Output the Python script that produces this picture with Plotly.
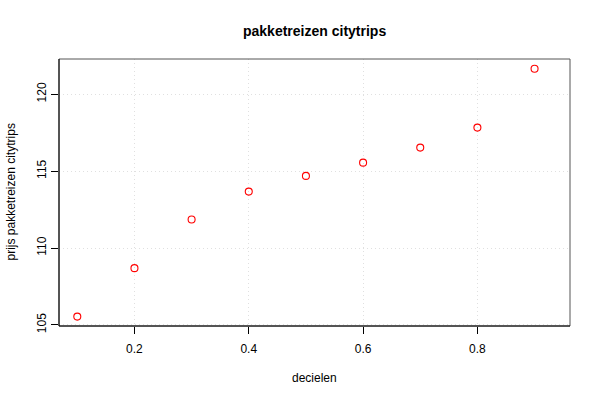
import plotly.graph_objects as go

deciles = [0.1, 0.2, 0.3, 0.4, 0.5, 0.6, 0.7, 0.8, 0.9]
prices = [105.54, 108.69, 111.85, 113.67, 114.69, 115.55, 116.53, 117.83, 121.66]
x_ticks = [0.2, 0.4, 0.6, 0.8]
y_ticks = [105, 110, 115, 120]

fig = go.Figure()
fig.add_trace(go.Scatter(
    x=deciles, y=prices, mode="markers",
    marker=dict(symbol="circle-open", size=7, color="red", line=dict(width=1.1, color="red")),
    showlegend=False,
))

font = "Liberation Sans, Arial, Helvetica, sans-serif"
fig.update_layout(
    width=600, height=400,
    margin=dict(l=59, r=30, t=59, b=74, autoexpand=False),
    paper_bgcolor="white", plot_bgcolor="white",
    font=dict(family=font, size=12, color="black"),
    xaxis=dict(
        range=[0.068, 0.962], tickvals=x_ticks, ticktext=[str(v) for v in x_ticks],
        showgrid=True, gridcolor="#e0e0e0", griddash="1px,3px", gridwidth=1,
        ticks="outside", ticklen=7, tickcolor="black", automargin=False,
        ticklabelstandoff=5,
        showline=False, zeroline=False,
    ),
    yaxis=dict(
        range=[104.93, 122.29], tickvals=y_ticks, ticktext=[str(v) for v in y_ticks],
        showgrid=True, gridcolor="#e0e0e0", griddash="1px,3px", gridwidth=1,
        ticks="outside", ticklen=7, tickcolor="black", tickangle=-90, automargin=False,
        showline=False, zeroline=False,
    ),
    shapes=[
        dict(type="rect", xref="paper", yref="paper", x0=0, y0=0, x1=1, y1=1,
             line=dict(color="#555555", width=1)),
        dict(type="line", xref="paper", yref="paper", x0=0, y0=0, x1=1, y1=0,
             line=dict(color="black", width=1)),
        dict(type="line", xref="paper", yref="paper", x0=0, y0=0, x1=0, y1=1,
             line=dict(color="black", width=1)),
    ],
    annotations=[
        dict(text="<b>pakketreizen citytrips</b>", xref="paper", yref="paper",
             x=0.5, y=1, yshift=28, yanchor="middle", xanchor="center",
             showarrow=False, font=dict(size=14)),
        dict(text="decielen", xref="paper", yref="paper",
             x=0.5, y=0, yshift=-52, yanchor="middle", xanchor="center",
             showarrow=False, font=dict(size=12)),
        dict(text="prijs pakketreizen citytrips", xref="paper", yref="paper",
             x=0, y=0.5, xshift=-49, xanchor="center", yanchor="middle",
             textangle=-90, showarrow=False, font=dict(size=12)),
    ],
)

fig.write_html("out.html", config={"displayModeBar": False},
               post_script="document.body.style.margin='0';")
